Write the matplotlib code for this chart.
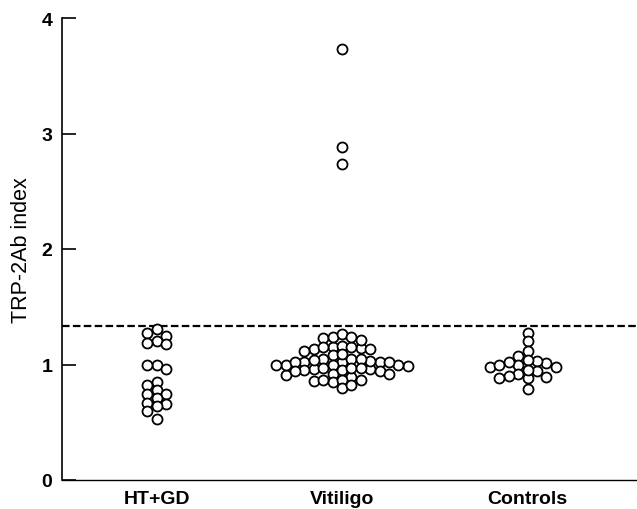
import numpy as np
import matplotlib.pyplot as plt

plt.rcParams['font.family'] = ['Liberation Sans', 'DejaVu Sans']

# TRP-2Ab index per subject
groups = ['HT+GD', 'Vitiligo', 'Controls']
ht_gd = [1.31, 1.27, 1.25, 1.20, 1.19, 1.18, 1.00, 1.00, 0.96, 0.85,
         0.82, 0.78, 0.745, 0.745, 0.71, 0.67, 0.66, 0.64, 0.60, 0.53]
vitiligo = [3.73, 2.88, 2.74,
            1.02, 1.02, 1.02, 1.05, 0.99, 1.13, 1.05, 0.96,
            1.15, 1.08, 1.00, 0.89, 1.23, 1.14, 1.04, 0.96, 0.91,
            1.21, 1.13, 1.00, 0.92, 0.85, 1.24, 1.16, 1.03, 0.95, 0.87, 0.80,
            1.26, 1.15, 1.02, 0.95, 0.86, 0.82, 1.24, 1.09, 0.97, 0.87,
            1.12, 1.00, 0.94, 0.87, 1.15, 1.05, 0.97, 0.92,
            1.00, 1.02, 0.94, 0.97]
controls = [1.27, 1.20, 1.12, 1.07, 0.976, 1.00, 0.92, 0.976, 1.01, 1.02,
            1.03, 1.00, 1.04, 0.90, 0.88, 0.94, 0.88, 0.89, 0.955, 0.79]
cutoff = 1.33

W, H = 637, 510
fig = plt.figure(figsize=(W / 100, H / 100), dpi=100)
ax = fig.add_axes([62 / W, 29 / H, 575 / W, 462 / H])
ax.set_xlim(-0.51, 2.59)
ax.set_ylim(0, 4)

# pixel -> data scale, used to lay the dots out as a swarm
px_x = 575 / 3.1
px_y = 462 / 4.0
step_x = 9.4 / px_x
gap_y = 8.0 / px_y


def swarm(vals):
    vals = np.asarray(vals)
    cols = {}
    offs = np.zeros(len(vals))
    order = [0]
    for k in range(1, 15):
        order += [-k, k]
    for i in np.argsort(-vals, kind='stable'):
        v = vals[i]
        for k in order:
            col = cols.setdefault(k, [])
            if all(abs(v - u) >= gap_y - 1e-9 for u in col):
                col.append(v)
                offs[i] = k * step_x
                break
    return offs


for i, vals in enumerate([ht_gd, vitiligo, controls]):
    x = i + swarm(vals)
    ax.scatter(x, vals, s=52, facecolors='white', edgecolors='black',
               linewidths=1.3, zorder=3, clip_on=False)

ax.axhline(cutoff, color='black', lw=1.6, ls=(0, (3.4, 1.5)), zorder=2)

ax.spines['top'].set_visible(False)
ax.spines['right'].set_visible(False)
ax.spines['left'].set_linewidth(1.2)
ax.spines['bottom'].set_linewidth(1.0)

ax.set_yticks([0, 1, 2, 3, 4])
ax.set_yticklabels(['0', '1', '2', '3', '4'], fontweight='bold', fontsize=14)
ax.tick_params(axis='y', direction='in', length=10, width=1.2, pad=7)
ax.set_xticks([0, 1, 2])
ax.set_xticklabels(groups, fontweight='bold', fontsize=14)
ax.tick_params(axis='x', length=0, pad=7)
ax.set_ylabel('TRP-2Ab index', fontsize=15.5)
ax.yaxis.set_label_coords(-0.053, 0.5)

fig.savefig('out.png', dpi=100)
